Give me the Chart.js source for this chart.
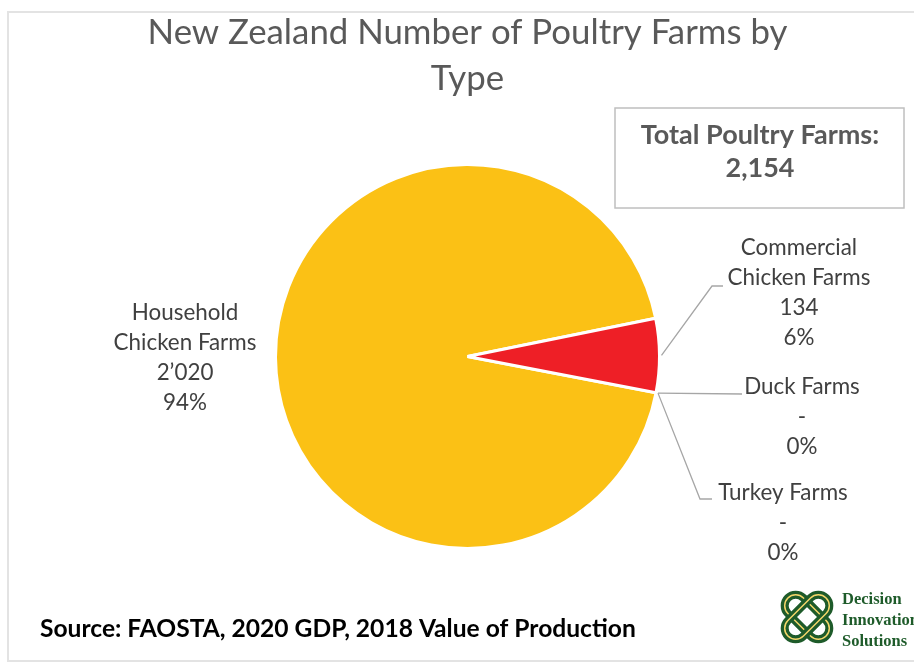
<!DOCTYPE html>
<html>
<head>
<meta charset="utf-8">
<script src="https://cdn.jsdelivr.net/npm/chart.js@4.4.0/dist/chart.umd.min.js"></script>
<style>
  body { margin: 0; background: #fff; }
  #wrap { position: relative; width: 914px; height: 670px; }
</style>
</head>
<body>
<div id="wrap"><canvas id="pieChart"></canvas></div>
<script>
// data
const categories = ['Household Chicken Farms', 'Commercial Chicken Farms', 'Duck Farms', 'Turkey Farms'];
const labelLines = [['Household', 'Chicken Farms'], ['Commercial', 'Chicken Farms'], ['Duck Farms'], ['Turkey Farms']];
const farmCounts = [2020, 134, 0, 0];
const sliceColors = ['#FBC115', '#EE1F26', '#4472C4', '#A5A5A5'];

const totalFarms = farmCounts.reduce((a, b) => a + b, 0);
const textGrey = '#404040';
const labelFont = '22.4px Lato';

// where each data label sits (centre x, first line y) and its leader elbow
const labelPlace = [
  { x: 185, y: 313, line: null },
  { x: 799, y: 248, line: [[712, 286], [723, 286]], at: 'mid' },
  { x: 802, y: 387, line: [[742, 394]], at: 'end' },
  { x: 783, y: 493, line: [[700, 499], [712, 499]], at: 'end' }
];

function fmtCount(v, sep) {
  if (v === 0) return '-';
  return String(v).replace(/\B(?=(\d{3})+(?!\d))/g, sep);
}

// frame, leader lines, labels, total box, source and logo
const extras = {
  id: 'extras',
  afterDraw(chart) {
    const ctx = chart.ctx;
    const arcs = chart.getDatasetMeta(0).data;
    ctx.save();

    // outer frame
    ctx.strokeStyle = '#e3e3e3';
    ctx.lineWidth = 2;
    ctx.beginPath();
    ctx.moveTo(914, 12); ctx.lineTo(8, 12); ctx.lineTo(8, 661); ctx.lineTo(914, 661);
    ctx.stroke();

    // data labels
    ctx.textAlign = 'center';
    ctx.textBaseline = 'middle';
    ctx.font = labelFont;
    arcs.forEach((arc, i) => {
      const p = labelPlace[i];
      if (p.line) {
        const a = p.at === 'mid' ? (arc.startAngle + arc.endAngle) / 2 : arc.endAngle;
        const r = arc.outerRadius;
        ctx.strokeStyle = '#a6a6a6';
        ctx.lineWidth = 1.3;
        ctx.beginPath();
        ctx.moveTo(arc.x + Math.cos(a) * (r + 2), arc.y + Math.sin(a) * (r + 2));
        p.line.forEach(pt => ctx.lineTo(pt[0], pt[1]));
        ctx.stroke();
      }
      const pct = Math.round(farmCounts[i] / totalFarms * 100) + '%';
      const lines = labelLines[i].concat([fmtCount(farmCounts[i], '\u2019'), pct]);
      ctx.fillStyle = textGrey;
      lines.forEach((t, k) => ctx.fillText(t, p.x, p.y + k * 30));
    });

    // total box
    ctx.strokeStyle = '#bfbfbf';
    ctx.lineWidth = 1.5;
    ctx.strokeRect(615, 108, 289, 100);
    ctx.fillStyle = '#595959';
    ctx.font = 'bold 27px Lato';
    ctx.fillText('Total Poultry Farms:', 760, 135);
    ctx.fillText(fmtCount(totalFarms, ','), 760, 168);

    // source
    ctx.textAlign = 'left';
    ctx.fillStyle = '#000';
    ctx.font = 'bold 24.6px Lato';
    ctx.fillText('Source: FAOSTA, 2020 GDP, 2018 Value of Production', 40, 629);

    // logo knot
    ctx.translate(807, 617);
    [Math.PI / 4, -Math.PI / 4].forEach(rot => {
      ctx.save();
      ctx.rotate(rot);
      ctx.beginPath();
      ctx.roundRect(-27, -11, 54, 22, 11);
      ctx.strokeStyle = '#1E5B2A';
      ctx.lineWidth = 8;
      ctx.stroke();
      ctx.strokeStyle = '#F3D66A';
      ctx.lineWidth = 1.5;
      ctx.stroke();
      ctx.restore();
    });
    ctx.setTransform(chart.currentDevicePixelRatio, 0, 0, chart.currentDevicePixelRatio, 0, 0);
    ctx.fillStyle = '#1E5B2A';
    ctx.font = 'bold 16.5px "Liberation Serif"';
    ['Decision', 'Innovation', 'Solutions'].forEach((t, k) => ctx.fillText(t, 842, 600 + k * 21));

    ctx.restore();
  }
};

function start() {
  const ctx = document.getElementById('pieChart').getContext('2d');
  new Chart(ctx, {
    type: 'pie',
    data: {
      labels: categories,
      datasets: [{
        data: farmCounts,
        backgroundColor: sliceColors,
        borderColor: '#ffffff',
        borderWidth: 3,
        hoverOffset: 0,
        radius: 192
      }]
    },
    options: {
      responsive: true,
      maintainAspectRatio: false,
      animation: false,
      rotation: 100.9,
      layout: { padding: { left: 21, right: 0, top: 8, bottom: 122 } },
      plugins: {
        legend: { display: false },
        tooltip: { enabled: false },
        title: {
          display: true,
          text: ['New Zealand Number of Poultry Farms by', 'Type'],
          color: '#595959',
          font: { family: 'Lato', size: 34.8, weight: 'normal', lineHeight: 1.32 },
          padding: { top: 2, bottom: 63 }
        }
      }
    },
    plugins: [extras]
  });
}

window.onload = start;
</script>
</body>
</html>
